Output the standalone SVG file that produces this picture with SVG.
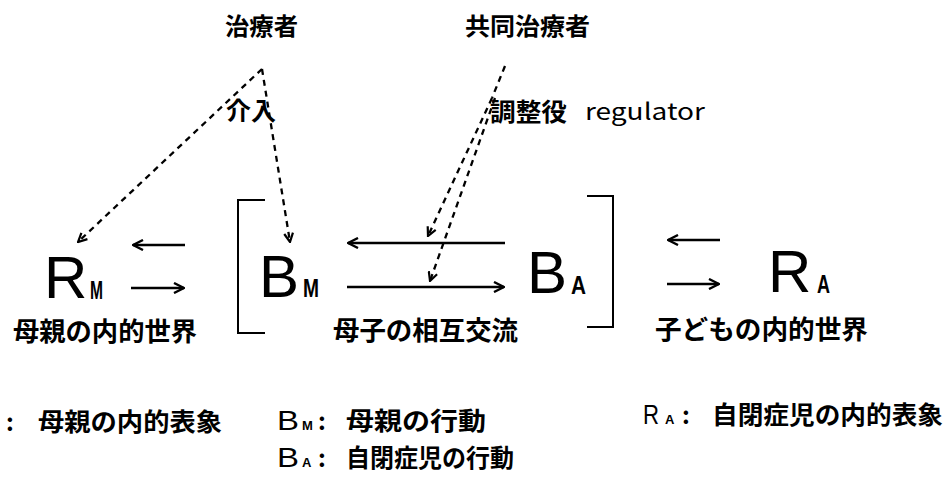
<svg xmlns="http://www.w3.org/2000/svg" width="951" height="479" viewBox="0 0 951 479">
<style>
.jp{font-family:"Noto Sans CJK JP","Noto Sans CJK SC",sans-serif;font-weight:bold;fill:#000}
.lat{font-family:"Noto Sans CJK JP","Liberation Sans",sans-serif;font-weight:normal;fill:#000}
.big{font-family:"Liberation Sans",Arial,sans-serif;font-size:60px;fill:#000}
.sub{font-family:"Liberation Sans",Arial,sans-serif;font-weight:bold;font-size:26px;fill:#000}
.lg{font-family:"Liberation Sans",Arial,sans-serif;font-size:28px;fill:#000}
.lgs{font-family:"Liberation Sans",Arial,sans-serif;font-weight:bold;font-size:13px;fill:#000}
.arr{fill:none;stroke:#000;stroke-width:2.5}
.dash{fill:none;stroke:#000;stroke-width:2.3;stroke-dasharray:6 5}
.br{fill:none;stroke:#000;stroke-width:2}
</style>
<defs>
<marker id="ah" viewBox="0 0 12 12" refX="11" refY="6" markerWidth="12" markerHeight="12" markerUnits="userSpaceOnUse" orient="auto">
<path d="M1,1 L11,6 L1,11" fill="none" stroke="#000" stroke-width="2.4"/>
</marker>
<marker id="dh" viewBox="0 0 10 10" refX="9" refY="5" markerWidth="11" markerHeight="11" markerUnits="userSpaceOnUse" orient="auto">
<path d="M1,1 L9,5 L1,9" fill="none" stroke="#000" stroke-width="2"/>
</marker>
</defs>

<g id="therapist"><text class="jp" x="225" y="35" font-size="24" textLength="73" lengthAdjust="spacingAndGlyphs">治療者</text></g>
<g id="cotherapist"><text class="jp" x="465" y="35" font-size="24" textLength="125" lengthAdjust="spacingAndGlyphs">共同治療者</text></g>
<g id="intervention"><text class="jp" x="226" y="120" font-size="25" textLength="50" lengthAdjust="spacingAndGlyphs">介入</text></g>
<g id="regulator"><text class="jp" x="490" y="121" font-size="25" textLength="77" lengthAdjust="spacingAndGlyphs">調整役</text><text class="lat" x="585" y="120" font-size="23" textLength="120" lengthAdjust="spacingAndGlyphs">regulator</text></g>

<g id="RM"><text class="big" x="44" y="298">R</text><text class="sub" x="90" y="299" textLength="13" lengthAdjust="spacingAndGlyphs">M</text><text class="jp" x="13" y="341" font-size="26" textLength="184" lengthAdjust="spacingAndGlyphs">母親の内的世界</text></g>
<g id="BM"><text class="big" x="259" y="297">B</text><text class="sub" x="303" y="297" textLength="16" lengthAdjust="spacingAndGlyphs">M</text></g>
<g id="BA"><text class="big" x="527" y="293">B</text><text class="sub" x="571" y="294" textLength="15" lengthAdjust="spacingAndGlyphs">A</text></g>
<g id="interaction"><path class="br" d="M265,200 H238 V333 H265"/><path class="br" d="M587,196 H613 V327 H587"/><text class="jp" x="333" y="340" font-size="26" textLength="185" lengthAdjust="spacingAndGlyphs">母子の相互交流</text></g>
<g id="RA"><text class="big" x="768" y="292">R</text><text class="sub" x="817" y="293" textLength="13" lengthAdjust="spacingAndGlyphs">A</text><text class="jp" x="655" y="339" font-size="26" textLength="213" lengthAdjust="spacingAndGlyphs">子どもの内的世界</text></g>

<g id="connectors">
<path class="arr" d="M185,245 H133" marker-end="url(#ah)"/>
<path class="arr" d="M131,288 H184" marker-end="url(#ah)"/>
<path class="arr" d="M505,243 H348" marker-end="url(#ah)"/>
<path class="arr" d="M347,287 H504" marker-end="url(#ah)"/>
<path class="arr" d="M720,240 H668" marker-end="url(#ah)"/>
<path class="arr" d="M667,284 H719" marker-end="url(#ah)"/>
<path class="dash" d="M262,69 L78,242" marker-end="url(#dh)"/>
<path class="dash" d="M262,69 L290,242" marker-end="url(#dh)"/>
<path class="dash" d="M505,66 L492,98"/>
<path class="dash" d="M492,98 L428,236" marker-end="url(#dh)"/>
<path class="dash" d="M495,98 L430,281" marker-end="url(#dh)"/>
</g>

<g id="legend">
<text class="jp" x="6" y="431" font-size="24">:</text>
<text class="jp" x="38" y="431" font-size="25" textLength="184" lengthAdjust="spacingAndGlyphs">母親の内的表象</text>
<text class="lg" x="277" y="430" textLength="22" lengthAdjust="spacingAndGlyphs">B</text><text class="lgs" x="302" y="430">M</text>
<text class="jp" x="318" y="430" font-size="24">:</text>
<text class="jp" x="346" y="430" font-size="25" textLength="140" lengthAdjust="spacingAndGlyphs">母親の行動</text>
<text class="lg" x="643" y="424" textLength="16" lengthAdjust="spacingAndGlyphs">R</text><text class="lgs" x="665" y="424">A</text>
<text class="jp" x="682" y="424" font-size="24">:</text>
<text class="jp" x="712" y="424" font-size="25" textLength="231" lengthAdjust="spacingAndGlyphs">自閉症児の内的表象</text>
<text class="lg" x="277" y="467" textLength="22" lengthAdjust="spacingAndGlyphs">B</text><text class="lgs" x="302" y="467">A</text>
<text class="jp" x="318" y="467" font-size="24">:</text>
<text class="jp" x="346" y="467" font-size="25" textLength="168" lengthAdjust="spacingAndGlyphs">自閉症児の行動</text>
</g>
</svg>
